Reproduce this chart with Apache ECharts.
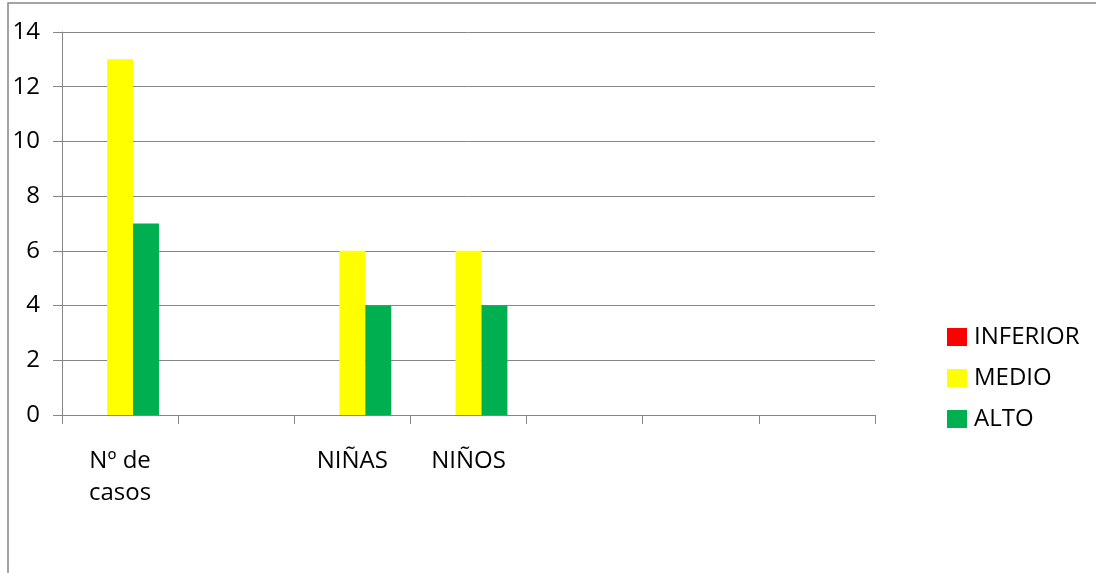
<!DOCTYPE html>
<html>
<head>
<meta charset="utf-8">
<script src="https://cdn.jsdelivr.net/npm/echarts@6/dist/echarts.min.js"></script>
<style>
html,body{margin:0;padding:0;background:#fff;}
#chart{width:1096px;height:573px;}
</style>
</head>
<body>
<div id="chart"></div>
<script>
const categories = ['Nº de\ncasos', ' ', 'NIÑAS', 'NIÑOS', '  ', '   ', '    '];
const seriesNames = ['INFERIOR', 'MEDIO', 'ALTO'];
const inferior = [0, null, 0, 0, null, null, null];
const medio = [13, null, 6, 6, null, null, null];
const alto = [7, null, 4, 4, null, null, null];
const yTicks = [0, 2, 4, 6, 8, 10, 12, 14];
const colors = ['#FF0000', '#FFFF00', '#00B050'];

const FONT = '"Open Sans", "Noto Sans", sans-serif';
const GRAY = '#868686';

const chart = echarts.init(document.getElementById('chart'), null, {renderer: 'canvas'});
chart.setOption({
  animation: false,
  backgroundColor: '#ffffff',
  color: colors,
  graphic: [{
    type: 'polyline',
    shape: {points: [[8, 573], [8, 3], [1096, 3]]},
    style: {stroke: GRAY, lineWidth: 1.5, fill: null},
    silent: true
  }],
  grid: {left: 62, right: 221, top: 32, bottom: 158, containLabel: false},
  legend: {
    orient: 'vertical',
    left: 942,
    top: 320,
    itemWidth: 20,
    itemHeight: 18,
    itemGap: 17,
    icon: 'rect',
    data: seriesNames,
    textStyle: {fontFamily: FONT, fontSize: 24, color: '#000', padding: [0, 0, 0, 2]}
  },
  xAxis: {
    type: 'category',
    data: categories,
    boundaryGap: true,
    axisLine: {lineStyle: {color: GRAY, width: 1}},
    axisTick: {show: true, length: 9, interval: 0, lineStyle: {color: GRAY}},
    axisLabel: {interval: 0, margin: 30, fontFamily: FONT, fontSize: 24, color: '#000', lineHeight: 32}
  },
  yAxis: {
    type: 'value',
    min: yTicks[0],
    max: yTicks[yTicks.length - 1],
    interval: yTicks[1] - yTicks[0],
    axisLine: {show: true, lineStyle: {color: GRAY, width: 1}},
    axisTick: {show: true, length: 9, lineStyle: {color: GRAY}},
    splitLine: {show: true, lineStyle: {color: GRAY, width: 1}},
    axisLabel: {margin: 22, fontFamily: FONT, fontSize: 24, color: '#000'}
  },
  series: [
    {name: seriesNames[0], type: 'bar', data: inferior, barGap: '0%', barCategoryGap: '33%'},
    {name: seriesNames[1], type: 'bar', data: medio, barGap: '0%', barCategoryGap: '33%'},
    {name: seriesNames[2], type: 'bar', data: alto, barGap: '0%', barCategoryGap: '33%'}
  ]
});
</script>
</body>
</html>
